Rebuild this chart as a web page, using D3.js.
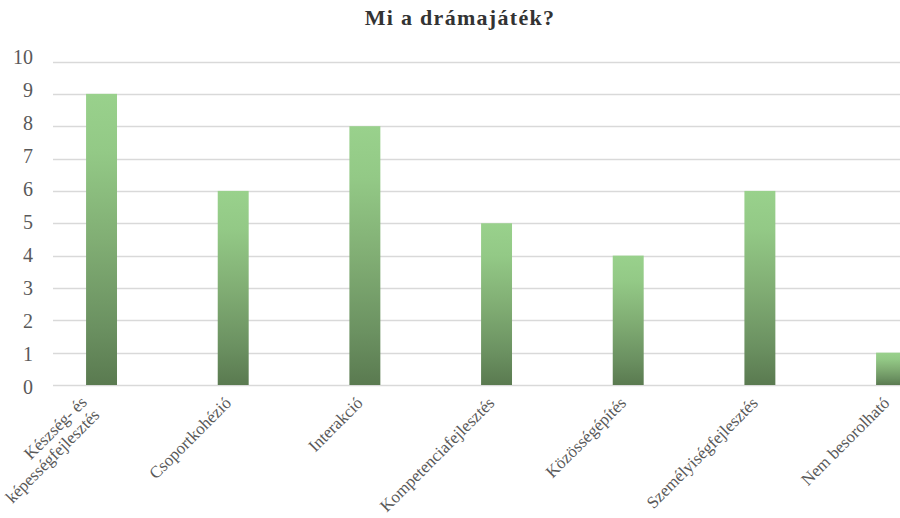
<!DOCTYPE html>
<html>
<head>
<meta charset="utf-8">
<script src="https://cdn.jsdelivr.net/npm/d3@7"></script>
<style>
  html, body { margin: 0; padding: 0; background: #fff; }
  svg { display: block; }
</style>
</head>
<body>
<svg id="chart" width="900" height="518"></svg>
<script>
// Chart data
const title = "Mi a drámajáték?";
const categories = [
  "Készség- és\nképességfejlesztés",
  "Csoportkohézió",
  "Interakció",
  "Kompetenciafejlesztés",
  "Közösségépítés",
  "Személyiségfejlesztés",
  "Nem besorolható"
];
const values = [9, 6, 8, 5, 4, 6, 1];
const yTicks = [0, 1, 2, 3, 4, 5, 6, 7, 8, 9, 10];

const W = 900, H = 518;
const FONT = "'Liberation Serif', 'Times New Roman', serif";

const svg = d3.select("#chart");

// Per-bar vertical gradient: light green at the top, dark green at the base
const defs = svg.append("defs");
const grad = defs.append("linearGradient")
  .attr("id", "barGrad")
  .attr("x1", 0).attr("y1", 0).attr("x2", 0).attr("y2", 1);
[
  [0, "#99d18c"],
  [0.2, "#93c986"],
  [0.5, "#81ae74"],
  [0.8, "#6b9161"],
  [1, "#5a7a50"]
].forEach(([o, c]) => grad.append("stop").attr("offset", o).attr("stop-color", c));

// Scales
const x = d3.scaleBand()
  .domain(categories)
  .range([35.7, 35.7 + 7 * 131.67])
  .paddingInner(0.765)
  .paddingOuter(0.3825);

const y = d3.scaleLinear().domain([0, 10]).range([385, 61.5]);
// tick labels sit on a slightly taller span than the gridlines
const yLab = d3.scaleLinear().domain([0, 10]).range([386.5, 56.8]);

// Gridlines
const gridLeft = 53, gridRight = 900;
svg.append("g")
  .selectAll("line")
  .data(yTicks)
  .join("line")
  .attr("x1", gridLeft).attr("x2", gridRight)
  .attr("y1", d => Math.round(y(d)) + 0.5)
  .attr("y2", d => Math.round(y(d)) + 0.5)
  .attr("stroke", "#d9d9d9")
  .attr("stroke-width", 1.3);

// Y tick labels
svg.append("g")
  .selectAll("text")
  .data(yTicks)
  .join("text")
  .attr("x", 33)
  .attr("y", d => yLab(d))
  .attr("dy", "0.35em")
  .attr("text-anchor", "end")
  .attr("font-family", FONT)
  .attr("font-size", 20)
  .attr("fill", "#595959")
  .text(d => d);

// Bars
svg.append("g")
  .selectAll("rect")
  .data(values)
  .join("rect")
  .attr("x", (d, i) => x(categories[i]))
  .attr("width", x.bandwidth())
  .attr("y", d => y(d))
  .attr("height", d => y(0) - y(d))
  .attr("fill", "url(#barGrad)");

// Category labels, rotated -45°, right-aligned lines
const lineGap = 18;
const labels = svg.append("g")
  .selectAll("text")
  .data(categories)
  .join("text")
  .attr("transform", d => {
    const n = d.split("\n").length;
    const cx = x(d) + x.bandwidth() / 2;
    return `translate(${cx - 1},${404 + 12 * (n - 1)}) rotate(-45)`;
  })
  .attr("text-anchor", "end")
  .attr("font-family", FONT)
  .attr("font-size", 17)
  .attr("fill", "#595959");

labels.each(function(d) {
  const lines = d.split("\n");
  const n = lines.length;
  d3.select(this).selectAll("tspan")
    .data(lines)
    .join("tspan")
    .attr("x", 0)
    .attr("y", (l, i) => -(n - 1 - i) * lineGap)
    .text(l => l);
});

// Title
svg.append("text")
  .attr("x", 460)
  .attr("y", 25)
  .attr("text-anchor", "middle")
  .attr("font-family", FONT)
  .attr("font-weight", "bold")
  .attr("font-size", 22)
  .attr("letter-spacing", 1.3)
  .attr("fill", "#333333")
  .text(title);
</script>
</body>
</html>
